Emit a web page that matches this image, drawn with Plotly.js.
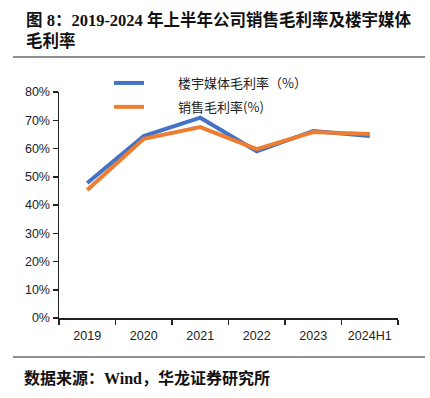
<!DOCTYPE html>
<html>
<head>
<meta charset="utf-8">
<script src="https://cdn.plot.ly/plotly-3.0.1.min.js"></script>
<style>html,body{margin:0;padding:0;background:#fff;}#chart{width:430px;height:398px;}</style>
</head>
<body>
<div id="chart"></div>
<script>
const categories = ["2019", "2020", "2021", "2022", "2023", "2024H1"];
const mediaMargin = [47.8, 64.4, 70.9, 59.0, 66.2, 64.4];
const salesMargin = [45.3, 63.4, 67.6, 59.8, 65.8, 65.1];
const seriesNames = ["楼宇媒体毛利率（%）", "销售毛利率(%)"];
const yTicks = [0, 10, 20, 30, 40, 50, 60, 70, 80];
const yTickText = yTicks.map(v => v + "%");

const W = 430, H = 398;
const L = 59, R = 398, T = 92, B = 318;
const px = x => (x - L) / (R - L);
const py = y => (B - y) / (B - T);

const pad = "\u00a0\u00a0\u00a0\u00a0\u00a0\u00a0\u00a0\u00a0\u00a0\u00a0";
const traces = [
  {x: categories, y: mediaMargin, name: pad + seriesNames[0], type: "scatter", mode: "lines",
   line: {color: "#4472C4", width: 4}, legendgroup: "a"},
  {x: categories, y: salesMargin, name: pad + seriesNames[1], type: "scatter", mode: "lines",
   line: {color: "#ED7D31", width: 4}, legendgroup: "b"}
];

const cjkSerif = "Liberation Serif, Noto Sans CJK SC, sans-serif";
const layout = {
  width: W, height: H,
  margin: {l: L, r: W - R, t: T, b: H - B, pad: 0},
  paper_bgcolor: "#fff", plot_bgcolor: "#fff",
  showlegend: true,
  legend: {x: px(109), y: py(68), xanchor: "left", yanchor: "top", bgcolor: "rgba(0,0,0,0)",
           font: {family: "Noto Sans CJK SC", size: 13, color: "#222"},
           traceorder: "grouped", tracegroupgap: 4, itemwidth: 30},
  xaxis: {type: "category", range: [-0.5, 5.5], showline: true, linecolor: "#222", linewidth: 1.5,
          ticks: "outside", ticklen: 5, tickcolor: "#222", tickwidth: 1.5, tickson: "boundaries",
          ticklabelstandoff: 5,
          showgrid: false, zeroline: false, fixedrange: true,
          tickfont: {family: "Liberation Sans, Arial", size: 12.5, color: "#222"}},
  yaxis: {range: [0, 80], tickvals: yTicks, ticktext: yTickText, showline: true, linecolor: "#222",
          linewidth: 1.5, ticks: "outside", ticklen: 5, tickcolor: "#222", tickwidth: 1.5,
          showgrid: false, zeroline: false, fixedrange: true,
          tickfont: {family: "Liberation Sans, Arial", size: 12.5, color: "#222"}},
  annotations: [
    {xref: "paper", yref: "paper", x: px(24), y: py(31), xanchor: "left", yanchor: "middle", align: "left",
     showarrow: false, text: "<b>图 8：2019-2024 年上半年公司销售毛利率及楼宇媒体<br>毛利率</b>",
     font: {family: cjkSerif, size: 16.5, color: "#111"}},
    {xref: "paper", yref: "paper", x: px(22), y: py(378), xanchor: "left", yanchor: "middle",
     showarrow: false, text: "<b>数据来源：Wind，华龙证券研究所</b>",
     font: {family: cjkSerif, size: 16, color: "#111"}}
  ],
  shapes: [
    {type: "line", xref: "paper", yref: "paper", x0: px(13), x1: px(425), y0: py(57), y1: py(57),
     line: {color: "#222", width: 1.2}},
    {type: "line", xref: "paper", yref: "paper", x0: px(13), x1: px(425), y0: py(357), y1: py(357),
     line: {color: "#222", width: 1.2}}
  ]
};
Plotly.newPlot("chart", traces, layout, {displayModeBar: false, staticPlot: true});
</script>
</body>
</html>
